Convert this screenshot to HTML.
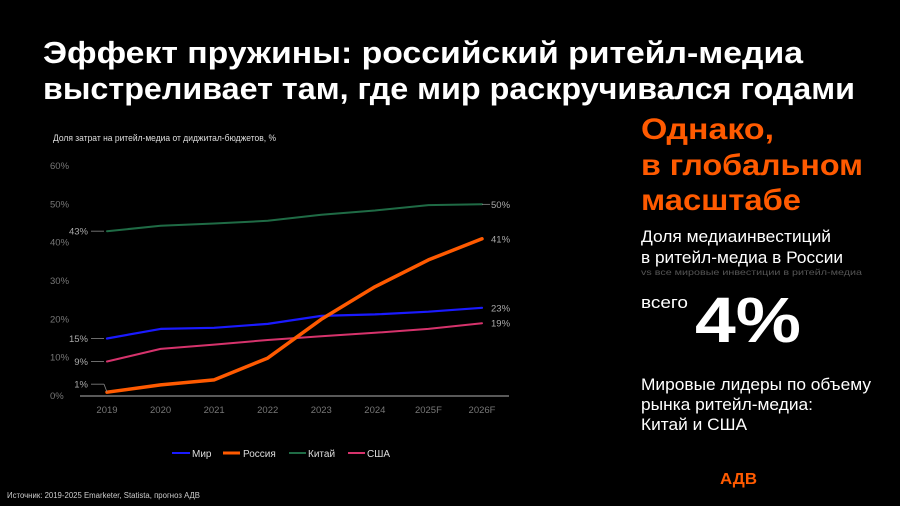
<!DOCTYPE html>
<html><head><meta charset="utf-8">
<style>
html,body{margin:0;padding:0;background:#000;width:900px;height:506px;overflow:hidden}
svg{display:block;font-family:"Liberation Sans","DejaVu Sans",sans-serif}
</style></head>
<body>
<svg id="s" width="900" height="506" viewBox="0 0 900 506">
<rect width="900" height="506" fill="#000"/>
<text x="43" y="63" font-size="31" font-weight="bold" fill="#fff" textLength="760" lengthAdjust="spacingAndGlyphs">Эффект пружины: российский ритейл-медиа</text>
<text x="43" y="99" font-size="31" font-weight="bold" fill="#fff" textLength="812" lengthAdjust="spacingAndGlyphs">выстреливает там, где мир раскручивался годами</text>
<text x="53" y="141" font-size="9.5" fill="#ddd" textLength="223" lengthAdjust="spacingAndGlyphs">Доля затрат на ритейл-медиа от диджитал-бюджетов, %</text>
<g id="chart"></g>
<g>
<line x1="172" y1="453" x2="190" y2="453" stroke="#1a1aff" stroke-width="2"/>
<text x="192" y="457" font-size="10" fill="#ddd">Мир</text>
<line x1="223" y1="453" x2="240" y2="453" stroke="#ff5a00" stroke-width="3"/>
<text x="243" y="457" font-size="10" fill="#ddd">Россия</text>
<line x1="289" y1="453" x2="306" y2="453" stroke="#1f6b45" stroke-width="2"/>
<text x="308" y="457" font-size="10" fill="#ddd">Китай</text>
<line x1="348" y1="453" x2="365" y2="453" stroke="#d6336c" stroke-width="2"/>
<text x="367" y="457" font-size="10" fill="#ddd">США</text>
</g>
<text x="7" y="498" font-size="8" fill="#ccc" textLength="193" lengthAdjust="spacingAndGlyphs">Источник: 2019-2025 Emarketer, Statista, прогноз АДВ</text>
<text x="720" y="484" font-size="16" font-weight="bold" fill="#ff5a00" textLength="37" lengthAdjust="spacingAndGlyphs">АДВ</text>
<g fill="#ff5a00" font-weight="bold" font-size="30">
<text x="641" y="139" textLength="133" lengthAdjust="spacingAndGlyphs">Однако,</text>
<text x="641" y="175" textLength="222" lengthAdjust="spacingAndGlyphs">в глобальном</text>
<text x="641" y="210" textLength="160" lengthAdjust="spacingAndGlyphs">масштабе</text>
</g>
<g fill="#fff" font-size="16.5">
<text x="641" y="242" textLength="190" lengthAdjust="spacingAndGlyphs">Доля медиаинвестиций</text>
<text x="641" y="263" textLength="202" lengthAdjust="spacingAndGlyphs">в ритейл-медиа в России</text>
</g>
<text x="641" y="275" font-size="8.5" fill="#555" textLength="221" lengthAdjust="spacingAndGlyphs">vs все мировые инвестиции в ритейл-медиа</text>
<text x="641" y="308" font-size="16.5" fill="#fff" textLength="47" lengthAdjust="spacingAndGlyphs">всего</text>
<text x="695" y="342" font-size="64" font-weight="bold" fill="#fff" textLength="106" lengthAdjust="spacingAndGlyphs">4%</text>
<g fill="#fff" font-size="16.5">
<text x="641" y="390" textLength="230" lengthAdjust="spacingAndGlyphs">Мировые лидеры по объему</text>
<text x="641" y="410" textLength="172" lengthAdjust="spacingAndGlyphs">рынка ритейл-медиа:</text>
<text x="641" y="430" textLength="106" lengthAdjust="spacingAndGlyphs">Китай и США</text>
</g>
</svg>
<script>
const categories = ["2019","2020","2021","2022","2023","2024","2025F","2026F"];
const yTicks = [0,10,20,30,40,50,60];
const mirValues = [15,17.5,17.8,18.8,20.9,21.3,22,23];
const russiaValues = [1,2.9,4.2,9.9,20,28.5,35.5,41];
const chinaValues = [43,44.4,45,45.7,47.3,48.4,49.8,50];
const usaValues = [9,12.3,13.4,14.6,15.6,16.5,17.5,19];

const NS = "http://www.w3.org/2000/svg";
const g = document.getElementById("chart");
const x = i => 107 + i * (482 - 107) / (categories.length - 1);
const y = v => 396 - v * (396 - 166) / 60;
function mk(tag, attrs, parent) {
  const el = document.createElementNS(NS, tag);
  for (const k in attrs) el.setAttribute(k, attrs[k]);
  (parent || g).appendChild(el);
  return el;
}
yTicks.forEach(t => {
  const el = mk("text", {x: 50, y: y(t) + 3, "font-size": 9.5, fill: "#777"});
  el.textContent = t + "%";
  
  
});
const ax = mk("line", {x1: 80, y1: y(0), x2: 509, y2: y(0), stroke: "#777", "stroke-width": 1.5});


categories.forEach((c, i) => {
  const el = mk("text", {x: x(i), y: 413, "font-size": 9.5, fill: "#777", "text-anchor": "middle"});
  el.textContent = c;
  
  
});
const series = [
  {name: "china", vals: chinaValues, color: "#1f6b45", w: 2},
  {name: "usa", vals: usaValues, color: "#d6336c", w: 2},
  {name: "mir", vals: mirValues, color: "#1a1aff", w: 2.2},
  {name: "russia", vals: russiaValues, color: "#ff5a00", w: 3.5}
];
series.forEach(s => {
  const d = s.vals.map((v, i) => (i ? "L" : "M") + x(i).toFixed(1) + " " + y(v).toFixed(1)).join(" ");
  const p = mk("path", {d: d, fill: "none", stroke: s.color, "stroke-width": s.w, "stroke-linejoin": "round", "stroke-linecap": "round"});
  
  
  const n = s.vals.length - 1;
  const last = s.vals[n], first = s.vals[0];
  // end label
  if (s.name === "china") mk("line", {x1: x(n), y1: y(last), x2: x(n) + 8, y2: y(last), stroke: "#888", "stroke-width": 0.8});
  const el = mk("text", {x: x(n) + 9, y: y(last) + 3.5, "font-size": 9.5, fill: "#aaa"});
  el.textContent = last + "%";
  
  
  // start label with leader
  let ly = y(first);
  if (s.name === "russia") ly = y(first) - 8;
  mk("line", {x1: 91, y1: ly, x2: x(0) - 3, y2: ly, stroke: "#888", "stroke-width": 0.8});
  if (s.name === "russia") mk("line", {x1: x(0) - 3, y1: ly, x2: x(0), y2: y(first), stroke: "#888", "stroke-width": 0.8});
  const sl = mk("text", {x: 88, y: ly + 3.5, "font-size": 9.5, fill: "#aaa", "text-anchor": "end"});
  sl.textContent = first + "%";
  
  
});
</script>
</body></html>
